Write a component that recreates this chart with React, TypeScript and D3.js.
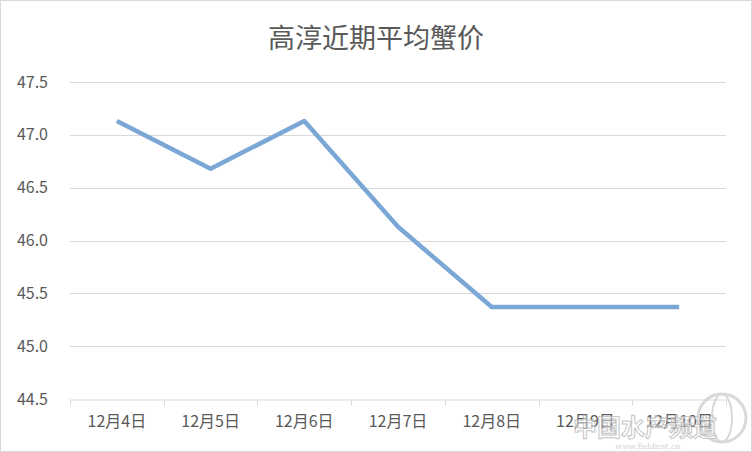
import { useEffect, useRef } from "react";
import * as d3 from "d3";

const title = "高淳近期平均蟹价";
const dates = ["12月4日", "12月5日", "12月6日", "12月7日", "12月8日", "12月9日", "12月10日"];
const prices = [47.13, 46.68, 47.13, 46.13, 45.37, 45.37, 45.37];
const yTicks = [44.5, 45.0, 45.5, 46.0, 46.5, 47.0, 47.5];

const font = "'Noto Sans CJK SC', 'Noto Sans', sans-serif";

const App = () => {
  const ref = useRef(null);

  useEffect(() => {
    if (!ref.current) return;
    const svg = d3.select(ref.current);
    svg.selectAll("*").remove();

    const W = 752;
    const H = 452;
    const margin = { top: 82, right: 26, bottom: 53, left: 70 };

    svg
      .append("rect")
      .attr("x", 0.5)
      .attr("y", 0.5)
      .attr("width", W - 1)
      .attr("height", H - 1)
      .attr("fill", "#fff")
      .attr("stroke", "#d9d9d9");

    const x = d3.scaleBand().domain(dates).range([margin.left, W - margin.right]);
    const y = d3.scaleLinear().domain([44.5, 47.5]).range([H - margin.bottom, margin.top]);

    // gridlines
    svg
      .append("g")
      .selectAll("line")
      .data(yTicks.slice(1))
      .enter()
      .append("line")
      .attr("x1", margin.left)
      .attr("x2", W - margin.right)
      .attr("y1", (d) => Math.round(y(d)) + 0.5)
      .attr("y2", (d) => Math.round(y(d)) + 0.5)
      .attr("stroke", "#d9d9d9")
      .attr("stroke-width", 1);

    // y labels
    svg
      .append("g")
      .selectAll("text")
      .data(yTicks)
      .enter()
      .append("text")
      .attr("x", 48)
      .attr("y", (d) => y(d))
      .attr("dy", "0.35em")
      .attr("text-anchor", "end")
      .attr("font-family", font)
      .attr("font-size", 16)
      .attr("fill", "#595959")
      .text((d) => d.toFixed(1));

    // x axis
    const xAxis = svg
      .append("g")
      .attr("transform", `translate(0,${Math.round(y(44.5)) + 0.5})`)
      .call(d3.axisBottom(x).tickSize(0).tickPadding(16));
    xAxis.select(".domain").attr("stroke", "#d9d9d9");
    xAxis
      .selectAll("text")
      .attr("font-family", font)
      .attr("font-size", 16)
      .attr("fill", "#595959");

    const bounds = dates.map((d) => x(d)!).concat([x(dates[dates.length - 1])! + x.bandwidth()]);
    xAxis
      .selectAll(".sep")
      .data(bounds)
      .enter()
      .append("line")
      .attr("x1", (d) => Math.round(d) + 0.5)
      .attr("x2", (d) => Math.round(d) + 0.5)
      .attr("y1", 0)
      .attr("y2", 6)
      .attr("stroke", "#d9d9d9");

    // line
    const line = d3
      .line<number>()
      .x((_, i) => x(dates[i])! + x.bandwidth() / 2)
      .y((d) => y(d));

    svg
      .append("path")
      .datum(prices)
      .attr("d", line)
      .attr("fill", "none")
      .attr("stroke", "#7ba7d6")
      .attr("stroke-width", 4.5)
      .attr("stroke-linejoin", "round")
      .attr("stroke-linecap", "butt");

    // title
    svg
      .append("text")
      .attr("x", 376)
      .attr("y", 48)
      .attr("text-anchor", "middle")
      .attr("font-family", font)
      .attr("font-size", 27)
      .attr("fill", "#595959")
      .text(title);

    // watermark
    const wm = svg.append("g").attr("opacity", 0.8);
    wm.append("circle")
      .attr("cx", 722)
      .attr("cy", 418)
      .attr("r", 24)
      .attr("fill", "none")
      .attr("stroke", "#d0d0d0")
      .attr("stroke-width", 3);
    wm.append("ellipse")
      .attr("cx", 722)
      .attr("cy", 418)
      .attr("rx", 10)
      .attr("ry", 24)
      .attr("fill", "none")
      .attr("stroke", "#d0d0d0")
      .attr("stroke-width", 2);
    wm.append("text")
      .attr("x", 645)
      .attr("y", 436)
      .attr("text-anchor", "middle")
      .attr("font-family", font)
      .attr("font-size", 24)
      .attr("font-weight", "bold")
      .attr("fill", "#fff")
      .attr("fill-opacity", 0.6)
      .attr("stroke", "#b8b8b8")
      .attr("stroke-width", 1)
      .text("中国水产频道");
    wm.append("text")
      .attr("x", 648)
      .attr("y", 449)
      .attr("text-anchor", "middle")
      .attr("font-family", "'DejaVu Serif', serif")
      .attr("font-size", 8)
      .attr("fill", "#c8c8c8")
      .text("www.fishfirst.cn");
  }, []);

  return (
    <svg
      ref={ref}
      width={752}
      height={452}
      style={{ position: "absolute", left: 0, top: 0 }}
    />
  );
};

export default App;
